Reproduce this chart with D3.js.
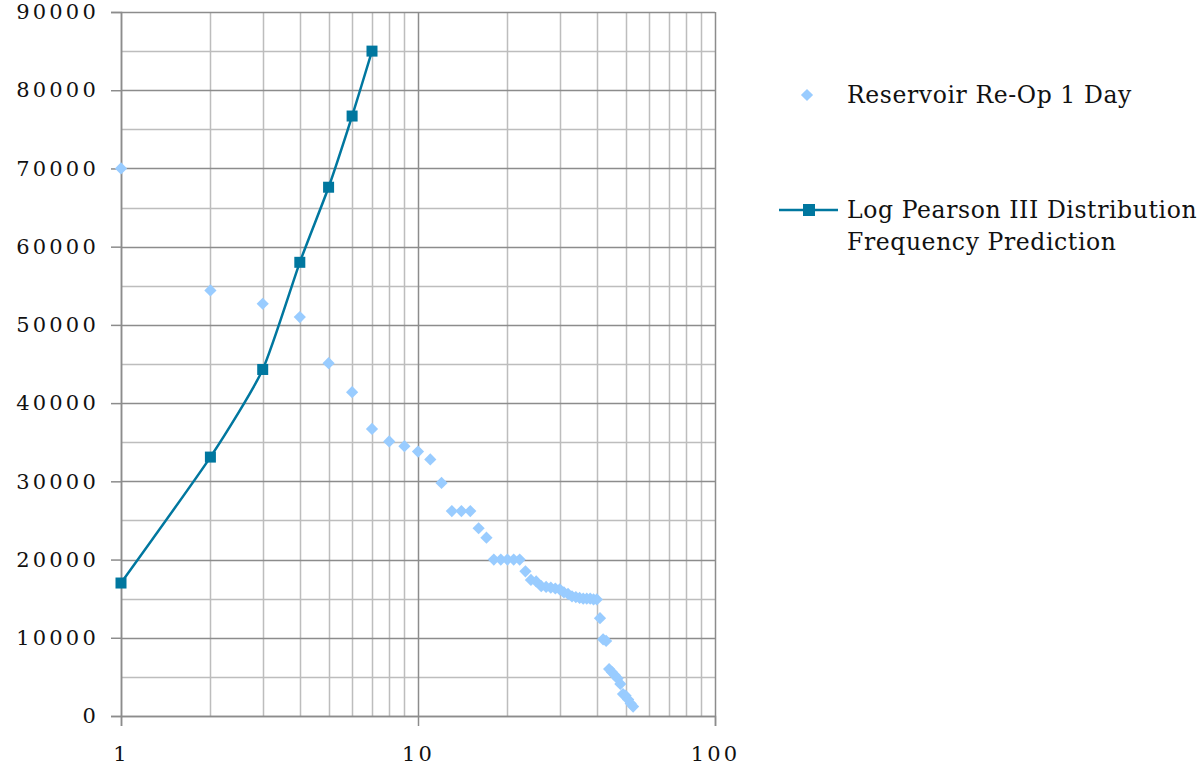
<!DOCTYPE html>
<html>
<head>
<meta charset="utf-8">
<script src="https://cdn.jsdelivr.net/npm/d3@7"></script>
<style>
  html, body { margin: 0; padding: 0; background: #fff; }
  svg { display: block; }
  text { font-family: "DejaVu Serif", "Liberation Serif", serif; fill: #111; }
</style>
</head>
<body>
<svg id="chart" width="1201" height="771"></svg>
<script>
// Observed 1-day reservoir volumes, ranked (x = rank)
const observedRank = d3.range(1, 54);
const observedValue = [
  70000, 54400, 52700, 51000, 45100, 41400, 36700, 35100, 34500, 33800,
  32800, 29800, 26200, 26200, 26200, 24000, 22800, 20000, 20000, 20000,
  20000, 20000, 18500, 17400, 17200, 16600, 16500, 16400, 16300, 16200,
  15800, 15600, 15300, 15200, 15100, 15000, 15000, 15000, 14900, 14900,
  12500, 9800, 9600, 6000, 5600, 5200, 4800, 4100, 2800, 2600,
  2100, 1600, 1200
];

// Log Pearson III frequency prediction
const predictedX = [1, 2, 3, 4, 5, 6, 7];
const predictedValue = [17000, 33100, 44300, 58000, 67600, 76700, 85000];

const xTickLabels = [1, 10, 100];
const yTickLabels = d3.range(0, 90001, 10000);

const seriesNames = ["Reservoir Re-Op 1 Day", ["Log Pearson III Distribution", "Frequency Prediction"]];
const colorObserved = "#99ccff";
const colorPredicted = "#00779f";

const svg = d3.select("#chart");
const x = d3.scaleLog().domain([1, 100]).range([121, 715]);
const y = d3.scaleLinear().domain([0, 90000]).range([716, 12]);

// gridlines
const minorX = [];
for (let d = 1; d < 100; d *= 10) for (let k = 2; k <= 9; k++) minorX.push(d * k);
const majorX = xTickLabels;
const minorY = d3.range(5000, 90000, 10000);
const majorY = yTickLabels;

const grid = svg.append("g");
grid.selectAll(".vmin").data(minorX).join("line")
  .attr("x1", d => Math.round(x(d)) + 0.5).attr("x2", d => Math.round(x(d)) + 0.5)
  .attr("y1", y(90000)).attr("y2", y(0))
  .attr("stroke", "#bdbdbd").attr("stroke-width", 1.5);
grid.selectAll(".hmin").data(minorY).join("line")
  .attr("x1", x(1)).attr("x2", x(100))
  .attr("y1", d => Math.round(y(d)) + 0.5).attr("y2", d => Math.round(y(d)) + 0.5)
  .attr("stroke", "#bdbdbd").attr("stroke-width", 1.5);
grid.selectAll(".vmaj").data(majorX).join("line")
  .attr("x1", d => Math.round(x(d)) + 0.5).attr("x2", d => Math.round(x(d)) + 0.5)
  .attr("y1", y(90000)).attr("y2", y(0))
  .attr("stroke", "#8c8c8c").attr("stroke-width", 1.5);
grid.selectAll(".hmaj").data(majorY).join("line")
  .attr("x1", x(1)).attr("x2", x(100))
  .attr("y1", d => Math.round(y(d)) + 0.5).attr("y2", d => Math.round(y(d)) + 0.5)
  .attr("stroke", "#8c8c8c").attr("stroke-width", 1.5);

// y axis
const yAxis = svg.append("g").attr("transform", `translate(${x(1)},0)`)
  .call(d3.axisLeft(y).tickValues(yTickLabels).tickFormat(d3.format("d")).tickSize(10).tickPadding(12));
yAxis.select(".domain").attr("stroke", "#8c8c8c").attr("stroke-width", 1.5);
yAxis.selectAll(".tick line").attr("stroke", "#8c8c8c").attr("stroke-width", 1.5);
yAxis.selectAll(".tick text").attr("font-size", 21).attr("letter-spacing", 3.2)
  .attr("font-family", "DejaVu Serif").attr("fill", "#111");

// x axis
const xAxis = svg.append("g").attr("transform", `translate(0,${y(0)})`)
  .call(d3.axisBottom(x).tickValues(xTickLabels).tickFormat(d3.format("d")).tickSize(10).tickPadding(20));
xAxis.select(".domain").attr("stroke", "#8c8c8c").attr("stroke-width", 1.5);
xAxis.selectAll(".tick line").attr("stroke", "#8c8c8c").attr("stroke-width", 1.5);
xAxis.selectAll(".tick text").attr("font-size", 21).attr("letter-spacing", 3.2)
  .attr("font-family", "DejaVu Serif").attr("fill", "#111");

// observed points (diamonds)
const diamond = d3.symbol().type(d3.symbolDiamond2).size(95);
svg.append("g").selectAll("path").data(observedRank.map((r, i) => [r, observedValue[i]])).join("path")
  .attr("d", diamond)
  .attr("transform", d => `translate(${x(d[0])},${y(d[1])})`)
  .attr("fill", colorObserved);

// prediction curve (smoothed)
const pred = predictedX.map((v, i) => [v, predictedValue[i]]);
svg.append("path").datum(pred)
  .attr("d", d3.line().x(d => x(d[0])).y(d => y(d[1])).curve(d3.curveCardinal.tension(0.4)))
  .attr("fill", "none").attr("stroke", colorPredicted).attr("stroke-width", 2.5);
svg.append("g").selectAll("rect").data(pred).join("rect")
  .attr("x", d => x(d[0]) - 5.5).attr("y", d => y(d[1]) - 5.5)
  .attr("width", 11).attr("height", 11).attr("fill", colorPredicted);

// legend
const legend = svg.append("g");
legend.append("path").attr("d", diamond).attr("transform", "translate(807,95)").attr("fill", colorObserved);
legend.append("text").attr("x", 847).attr("y", 103).attr("font-size", 23.5).attr("letter-spacing", 0.6).text(seriesNames[0]);
legend.append("line").attr("x1", 779).attr("x2", 838).attr("y1", 210).attr("y2", 210)
  .attr("stroke", colorPredicted).attr("stroke-width", 2.5);
legend.append("rect").attr("x", 803).attr("y", 204).attr("width", 12).attr("height", 12).attr("fill", colorPredicted);
legend.append("text").attr("x", 847).attr("y", 218).attr("font-size", 23.5).attr("letter-spacing", 0.6).text(seriesNames[1][0]);
legend.append("text").attr("x", 847).attr("y", 250).attr("font-size", 23.5).attr("letter-spacing", 0.6).text(seriesNames[1][1]);
</script>
</body>
</html>
